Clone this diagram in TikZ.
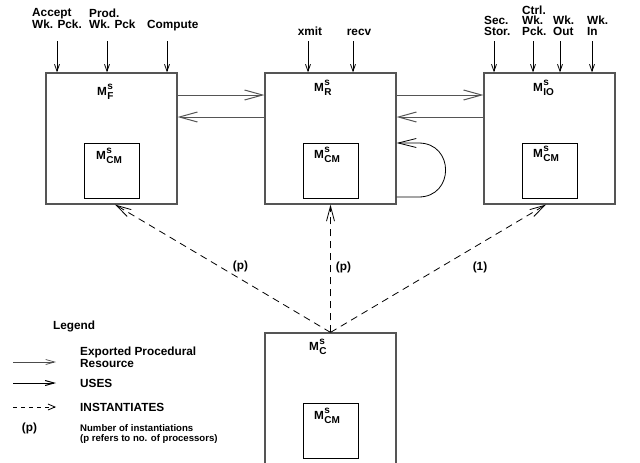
\documentclass[tikz,border=0pt]{standalone}
\usepackage{fontspec}
\setmainfont{Liberation Sans}
\usepackage{tikz}
\usetikzlibrary{arrows.meta}
\definecolor{boxgray}{RGB}{85,85,85}
\newcommand{\subfont}{\fontsize{10}{10}\selectfont}
\newcommand{\modname}[1]{M\kern0.4pt\rlap{\raisebox{5.5pt}{\subfont s}}\raisebox{-4pt}{\subfont #1}}

\begin{document}
\begin{tikzpicture}[x=1pt, y=-1pt,
    every node/.style={inner sep=0pt, font=\bfseries\fontsize{11.8}{10.5}\selectfont},
    modbox/.style={draw=boxgray, line width=1.2pt, minimum width=131pt, minimum height=131pt},
    cmbox/.style={draw=black, line width=0.9pt, minimum width=55pt, minimum height=55pt},
    inarrow/.style={black, line width=0.8pt, -{Straight Barb[length=7pt,width=5pt]}},
    expo/.style={boxgray, line width=1pt, -{Straight Barb[length=18pt,width=10pt]}},
    loopy/.style={black, line width=0.8pt, -{Straight Barb[length=18pt,width=9pt]}},
    inst/.style={black, line width=0.8pt, dash pattern=on 7pt off 5pt, -{Straight Barb[length=15pt,width=8pt]}},
    lgexpo/.style={black!70, line width=0.7pt, -{Straight Barb[length=9pt,width=5pt]}},
    lguses/.style={black, line width=1pt, -{Straight Barb[length=9pt,width=5pt]}},
    lginst/.style={black, line width=0.8pt, dash pattern=on 4pt off 4pt, -{Straight Barb[length=7pt,width=6pt]}}]

    \useasboundingbox (0,0) rectangle (640,463);

    %% module boxes
    \node[modbox] (mf)  at (111.5,138.5) {};
    \node[modbox] (mr)  at (330.5,138.5) {};
    \node[modbox] (mio) at (549.5,138.5) {};
    \node[modbox, minimum height=134pt] (mc) at (330.5,400) {};

    \node[cmbox] (cmf)  at (111.5,171) {};
    \node[cmbox] (cmr)  at (330.5,171) {};
    \node[cmbox] (cmio) at (549.5,171) {};
    \node[cmbox] (cmc)  at (330.5,431) {};

    \node[anchor=base west] (tf)  at (97,95)  {\modname{F}};
    \node[anchor=base west] (tr)  at (314,91) {\modname{R}};
    \node[anchor=base west] (tio) at (533,91) {\modname{IO}};
    \node[anchor=base west] (tc)  at (309,350) {\modname{C}};

    \node[anchor=base west] (tcmf)  at (96,159)  {\modname{CM}};
    \node[anchor=base west] (tcmr)  at (314,158) {\modname{CM}};
    \node[anchor=base west] (tcmio) at (533,157) {\modname{CM}};
    \node[anchor=base west] (tcmc)  at (314,419) {\modname{CM}};

    %% inputs on top
    \node[anchor=base west, align=left] (accept)  at (32,28)  {Accept\\Wk. Pck.};
    \node[anchor=base west, align=left] (prod)    at (89,28)  {Prod.\\Wk. Pck};
    \node[anchor=base west]             (compute) at (147,28) {Compute};
    \node[anchor=base] (xmit) at (310,35) {xmit};
    \node[anchor=base] (recv) at (359,35) {recv};
    \node[anchor=base west, align=left] (secstor) at (484,35) {Sec.\\Stor.};
    \node[anchor=base west, align=left] (ctrl)    at (522,35) {Ctrl.\\Wk.\\Pck.};
    \node[anchor=base west, align=left] (wkout)   at (553,35) {Wk.\\Out};
    \node[anchor=base west, align=left] (wkin)    at (587,35) {Wk.\\In};

    \foreach \x/\n/\b in {57/a/mf,107/b/mf,167/c/mf,308/d/mr,353/e/mr,
                          494/f/mio,533/g/mio,560/h/mio,592/i/mio}
      { \coordinate (in\n) at (\x,41);
        \draw[inarrow] (in\n) -- (in\n |- \b.north); }

    %% exported resources
    \draw[expo] ([yshift=43.5pt]mf.east) -- ([yshift=43.5pt]mr.west);
    \draw[expo] ([yshift=21.5pt]mr.west) -- ([yshift=21.5pt]mf.east);
    \draw[expo] ([yshift=43.5pt]mr.east) -- ([yshift=43.5pt]mio.west);
    \draw[expo] ([yshift=21.5pt]mio.west) -- ([yshift=21.5pt]mr.east);
    \draw[loopy] ([yshift=-58.5pt]mr.east) -- ++(22,0)
      .. controls +(36,0) and +(36,0) .. ([xshift=22pt,yshift=-4.5pt]mr.east)
      -- ([yshift=-4.5pt]mr.east);

    %% instantiations
    \draw[inst] (mc.north) -- ([xshift=3.5pt]mf.south);
    \draw[inst] (mc.north) -- (mr.south);
    \draw[inst] (mc.north) -- ([xshift=-3.5pt]mio.south);
    \node[anchor=base] (nf)  at (240.5,269) {(p)};
    \node[anchor=base] (nr)  at (343.5,270) {(p)};
    \node[anchor=base] (nio) at (480,270)   {(1)};

    %% legend
    \node[anchor=base west] (legend) at (53,329) {Legend};
    \foreach \y/\s [count=\i] in {362/lgexpo,383/lguses,407/lginst}
      { \coordinate (lgs\i) at (13,\y);
        \coordinate (lge\i) at (56,\y);
        \draw[\s] (lgs\i) -- (lge\i); }
    \node[anchor=base west, align=left] (lgtxta) at (80,367) {Exported Procedural\\Resource};
    \node[anchor=base west] (lgtxtb) at (80,387) {USES};
    \node[anchor=base west] (lgtxtc) at (80,411) {INSTANTIATES};
    \node[anchor=base] (lgp) at (29.5,431) {(p)};
    \node[anchor=base west, align=left, font=\bfseries\fontsize{9.6}{10}\selectfont] (lgtxtd) at (80,441)
      {Number of instantiations\\(p refers to no. of processors)};

  \end{tikzpicture}
\end{document}
